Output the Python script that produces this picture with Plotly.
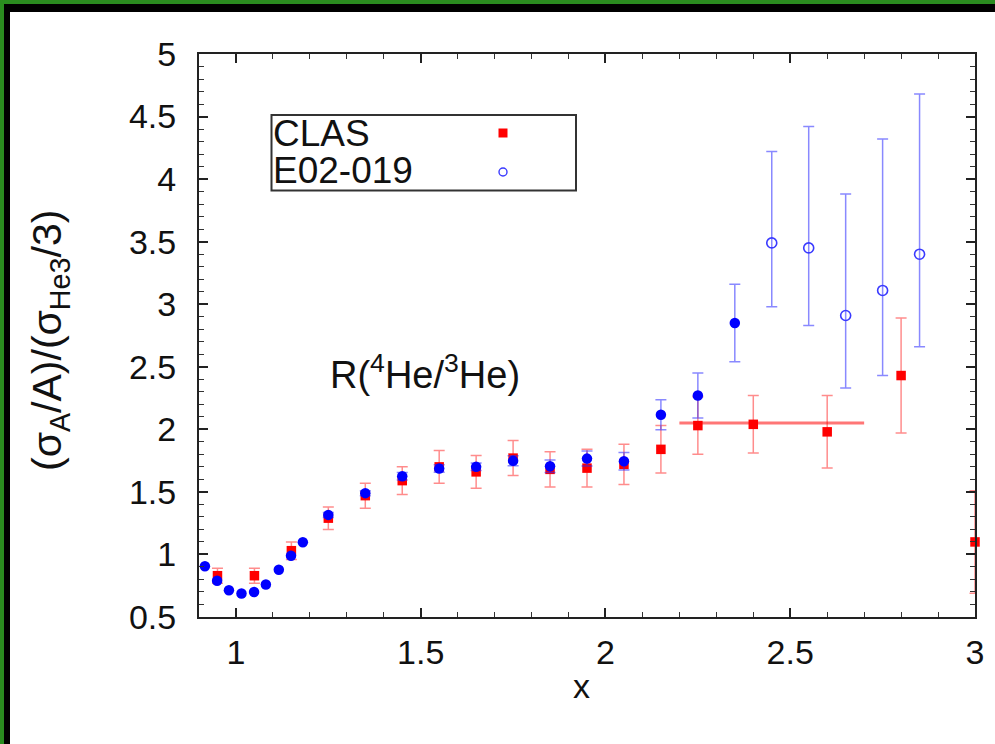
import numpy as np
import plotly.graph_objects as go

# ---- CLAS 4He/3He ratio ----
clas_x = [0.95, 1.05, 1.15, 1.25, 1.35, 1.45, 1.55, 1.65, 1.75, 1.85, 1.95, 2.05, 2.15, 2.25, 2.40, 2.60, 2.80, 3.00]
clas_y = [0.83, 0.83, 1.03, 1.29, 1.47, 1.59, 1.70, 1.66, 1.77, 1.68, 1.69, 1.72, 1.84, 2.03, 2.04, 1.98, 2.43, 1.10]
clas_err = [0.06, 0.06, 0.07, 0.09, 0.10, 0.11, 0.13, 0.13, 0.14, 0.14, 0.15, 0.16, 0.19, 0.23, 0.23, 0.29, 0.46, 0.41]

# plateau of the CLAS ratio at high x
plateau_x = [2.2, 2.7]
plateau_y = [2.05, 2.05]

# ---- E02-019, filled points ----
e02_x = [0.916, 0.949, 0.981, 1.015, 1.049, 1.081, 1.116, 1.149, 1.181, 1.25, 1.35, 1.45, 1.55, 1.65, 1.75, 1.85, 1.95, 2.05, 2.15, 2.25, 2.35]
e02_y = [0.906, 0.79, 0.714, 0.688, 0.70, 0.76, 0.877, 0.989, 1.098, 1.316, 1.49, 1.625, 1.686, 1.70, 1.748, 1.705, 1.766, 1.745, 2.117, 2.27, 2.85]
e02_err = [np.nan] * 9 + [0.02, 0.02, 0.03, 0.03, 0.03, 0.04, 0.05, 0.06, 0.07, 0.12, 0.18, 0.31]

# ---- E02-019, open points (asymmetric errors) ----
e02o_x = [2.45, 2.55, 2.65, 2.75, 2.85]
e02o_y = [3.49, 3.45, 2.91, 3.11, 3.40]
e02o_up = [0.73, 0.97, 0.97, 1.21, 1.28]
e02o_dn = [0.51, 0.62, 0.58, 0.68, 0.74]

FONT = "Liberation Sans, Arial, sans-serif"
RED = "#ff0000"
RED_ERR = "rgba(255,0,0,0.45)"
BLUE = "#0000ff"
BLUE_ERR = "rgba(40,40,255,0.55)"

fig = go.Figure()

fig.add_trace(go.Scatter(
    x=plateau_x, y=plateau_y, mode="lines",
    line=dict(color="rgba(255,60,60,0.7)", width=3),
    hoverinfo="skip", showlegend=False))

fig.add_trace(go.Scatter(
    x=clas_x, y=clas_y, mode="markers", name="CLAS", cliponaxis=False,
    marker=dict(symbol="square", size=9.5, color=RED),
    error_y=dict(type="data", array=clas_err, color=RED_ERR, thickness=1.5, width=5.5),
    showlegend=False))

fig.add_trace(go.Scatter(
    x=e02_x, y=e02_y, mode="markers", name="E02-019",
    marker=dict(symbol="circle", size=10.5, color=BLUE),
    error_y=dict(type="data", array=np.array(e02_err, dtype=float), color=BLUE_ERR, thickness=1.5, width=5.5),
    showlegend=False))

fig.add_trace(go.Scatter(
    x=e02o_x, y=e02o_y, mode="markers", name="E02-019",
    marker=dict(symbol="circle-open", size=10, color="#3a3aff", line=dict(width=1.6)),
    error_y=dict(type="data", symmetric=False, array=e02o_up, arrayminus=e02o_dn,
                 color=BLUE_ERR, thickness=1.5, width=5.5),
    showlegend=False))

# plot area in pixels: x 199..975, y 54..617.5
L, R, T, B = 199, 20, 54, 127
W, H = 995, 744
PW, PH = W - L - R, H - T - B


def px(xpix):
    return (xpix - L) / PW


def py(ypix):
    return (T + PH - ypix) / PH


axis_common = dict(
    showline=True, linecolor="#222222", linewidth=2, mirror="ticks",
    ticks="inside", ticklen=9, tickwidth=1.5, tickcolor="#222222",
    showgrid=False, zeroline=False,
    tickfont=dict(family=FONT, size=34, color="#111111"),
    minor=dict(ticks="inside", ticklen=5, tickwidth=1, tickcolor="#333333", dtick=0.1, showgrid=False),
)

fig.update_xaxes(range=[0.9, 3.0], tickvals=[1, 1.5, 2, 2.5, 3], ticktext=["1", "1.5", "2", "2.5", "3"],
                 ticklabelstandoff=4, **axis_common)
fig.update_yaxes(range=[0.5, 5.0], tickvals=[0.5, 1, 1.5, 2, 2.5, 3, 3.5, 4, 4.5, 5],
                 ticktext=["0.5", "1", "1.5", "2", "2.5", "3", "3.5", "4", "4.5", "5"],
                 ticklabelstandoff=14, **axis_common)


def band(x0, y0, w, h, color):
    # solid band along the page edge, drawn as an empty annotation box
    return dict(text=" ", x=px(x0), y=py(y0), xref="paper", yref="paper", xanchor="left", yanchor="top",
                width=w, height=h, bgcolor=color, borderpad=0, borderwidth=0, showarrow=False,
                font=dict(size=1))


GREEN = "#2a8c1f"
shapes = [
    # legend box
    dict(type="rect", xref="paper", yref="paper", x0=px(271.5), x1=px(576), y0=py(190.5), y1=py(115),
         fillcolor="rgba(0,0,0,0)", line=dict(color="#333333", width=2)),
    # legend keys
    dict(type="rect", xref="paper", yref="paper", xsizemode="pixel", ysizemode="pixel",
         xanchor=px(503), yanchor=py(133), x0=-4.5, x1=4.5, y0=-4.5, y1=4.5,
         fillcolor=RED, line=dict(width=0)),
    dict(type="circle", xref="paper", yref="paper", xsizemode="pixel", ysizemode="pixel",
         xanchor=px(503), yanchor=py(172), x0=-4, x1=4, y0=-4, y1=4,
         fillcolor="rgba(0,0,0,0)", line=dict(color="#3a3aff", width=1.4)),
]

annotations = [
    # page frame along the top and left edges: green rim, black band
    band(0, 0, W, 4, GREEN),
    band(0, 0, 4, H, GREEN),
    band(4, 4, W - 4, 8, "#000000"),
    band(4, 4, 6, H - 4, "#000000"),
    dict(text="CLAS", x=px(271), y=py(133), xref="paper", yref="paper", xanchor="left", yanchor="middle",
         showarrow=False, font=dict(family=FONT, size=37, color="#111111")),
    dict(text="E02-019", x=px(271), y=py(171), xref="paper", yref="paper", xanchor="left", yanchor="middle",
         showarrow=False, font=dict(family=FONT, size=37, color="#111111")),
    dict(text="R(<sup>4</sup>He/<sup>3</sup>He)", x=px(425), y=py(372), xref="paper", yref="paper",
         xanchor="center", yanchor="middle", showarrow=False, font=dict(family=FONT, size=38, color="#111111")),
    dict(text="(σ<sub>A</sub>/A)/(σ<sub>He3</sub>/3)", x=px(50), y=py(341), xref="paper", yref="paper",
         xanchor="center", yanchor="middle", textangle=-90, showarrow=False,
         font=dict(family=FONT, size=41, color="#111111")),
    dict(text="x", x=px(581), y=py(686), xref="paper", yref="paper", xanchor="center", yanchor="middle",
         showarrow=False, font=dict(family=FONT, size=34, color="#111111")),
]

fig.update_layout(
    width=W, height=H,
    margin=dict(l=L, r=R, t=T, b=B, pad=0),
    paper_bgcolor="#ffffff", plot_bgcolor="rgba(0,0,0,0)",
    shapes=shapes, annotations=annotations,
    showlegend=False,
)

fig.write_html("out.html")
